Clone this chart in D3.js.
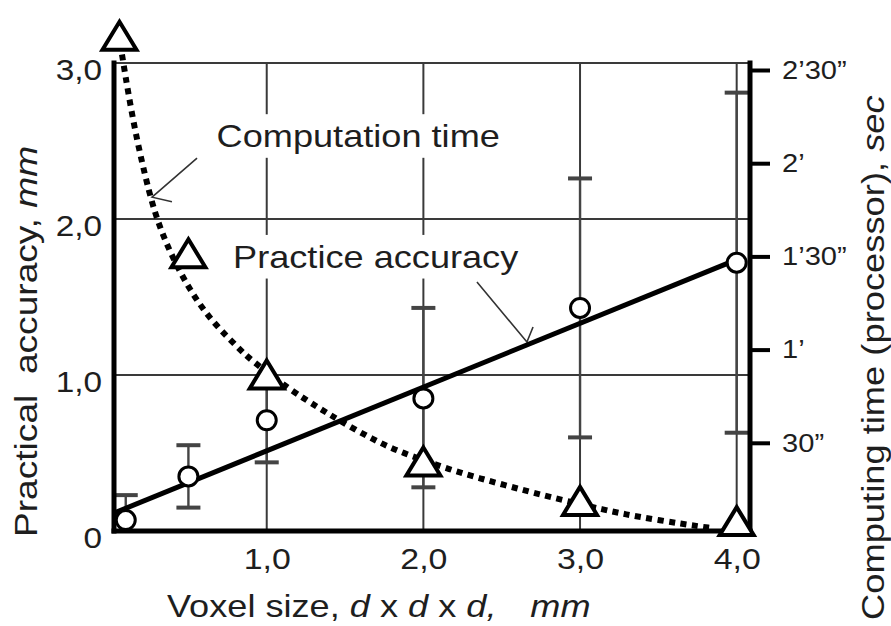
<!DOCTYPE html>
<html><head><meta charset="utf-8">
<script src="https://cdn.jsdelivr.net/npm/d3@7"></script>
<style>
body{margin:0;background:#fff}
svg{display:block}
text{font-family:"Liberation Sans",Arial,Helvetica,sans-serif;fill:#1e1e1e}
</style>
</head><body>
<svg id="c" width="891" height="626"></svg>
<script>
// ---- data ----
const voxelSizes   = [0.1, 0.5, 1.0, 2.0, 3.0, 4.0];
const accuracyMean = [0.07, 0.35, 0.71, 0.85, 1.43, 1.72];
const accuracyHigh = [0.23, 0.55, 0.95, 1.43, 2.26, 2.81];
const accuracyLow  = [0.00, 0.15, 0.44, 0.28, 0.60, 0.63];
const fitX = [0.025, 4.0];
const fitY = [0.115, 1.74];
const timeX   = [0.06, 0.5, 1.0, 2.0, 3.0, 4.0];
const timeSec = [161, 91, 52, 24, 11.3, 4.8];
const curveX   = [0.076, 0.15, 0.255, 0.32, 0.395, 0.51, 0.65, 0.83, 0.89, 1.15, 1.34, 1.47, 1.68, 1.85, 2.19, 2.38, 2.59, 2.79, 3.17, 3.36, 3.66, 3.85];
const curveSec = [155, 132, 109, 99, 90, 79, 69, 60, 57, 47, 41, 37, 31, 27, 21, 18.3, 15.4, 12.8, 8.2, 6.3, 3.8, 2.5];
const leftTicks = [0, 1, 2, 3];
const leftTickLabels = ["0", "1,0", "2,0", "3,0"];
const bottomTicks = [1, 2, 3, 4];
const bottomTickLabels = ["1,0", "2,0", "3,0", "4,0"];
const rightTicks = [30, 60, 90, 120, 150];
const rightTickLabels = ["30\u201d", "1\u2019", "1\u201930\u201d", "2\u2019", "2\u201930\u201d"];
const gridY = [1, 2, 3];
const gridX = [1, 2, 3, 4];

// ---- scales ----
const svg = d3.select("#c");
const x  = d3.scaleLinear().domain([0.025, 4.085]).range([114, 750]);
const y  = d3.scaleLinear().domain([0, 3]).range([531, 63]);
const yR = d3.scaleLinear().domain([0, 150]).range([536, 70]);
const [xL, xRt] = x.range();
const [yB, yT] = y.range();

// ---- grid ----
const grid = svg.append("g").attr("stroke", "#3a3a3a").attr("stroke-width", 2);
grid.selectAll(".gh").data(gridY).join("line")
  .attr("x1", xL).attr("x2", xRt).attr("y1", d => y(d)).attr("y2", d => y(d));
grid.selectAll(".gv").data(gridX).join("line")
  .attr("x1", d => x(d)).attr("x2", d => x(d)).attr("y1", yB).attr("y2", yT);

// ---- text helper ----
function addText(parent, px, py, rot, sx, size, parts, anchor, back) {
  const g = parent.append("g").attr("transform", `translate(${px},${py}) rotate(${rot}) scale(${sx},1)`);
  const t = g.append("text").attr("font-size", size).attr("text-anchor", anchor || "start")
    .style("white-space", "pre");
  parts.forEach(p => {
    const ts = t.append("tspan").text(p.t);
    if (p.i) ts.attr("font-style", "italic");
    if (p.dx) ts.attr("dx", p.dx);
  });
  if (back) {
    const bb = t.node().getBBox();
    g.insert("rect", "text").attr("x", bb.x - 6).attr("y", bb.y - 4)
      .attr("width", bb.width + 12).attr("height", bb.height + 8).attr("fill", "#fff");
  }
  return g;
}

// ---- annotation labels (data coords) ----
const ann = svg.append("g");
addText(ann, x(0.68), y(2.46), 0, 1.13, 32, [{t: "Computation time"}], "start", true);
addText(ann, x(0.785), y(1.686), 0, 1.13, 32, [{t: "Practice accuracy"}], "start", true);

// leader lines
const lead = svg.append("g").attr("stroke", "#333").attr("stroke-width", 1.6).attr("fill", "none");
const leaders = [
  [[0.555, 2.39], [0.268, 2.14], [0.395, 2.11]],
  [[2.342, 1.596], [2.661, 1.212], [2.70, 1.308]]
];
lead.selectAll("path").data(leaders).join("path")
  .attr("d", d => d3.line().x(p => x(p[0])).y(p => y(p[1]))(d));

// ---- error bars ----
const eb = svg.append("g").attr("stroke", "#444");
const ebData = voxelSizes.map((v, i) => ({v, lo: accuracyLow[i], hi: accuracyHigh[i]}));
eb.selectAll(".stem").data(ebData).join("line").attr("stroke-width", 2.4)
  .attr("x1", d => x(d.v)).attr("x2", d => x(d.v)).attr("y1", d => y(d.lo)).attr("y2", d => y(d.hi));
eb.selectAll(".capH").data(ebData).join("line").attr("stroke-width", 4)
  .attr("x1", d => x(d.v) - 12).attr("x2", d => x(d.v) + 12).attr("y1", d => y(d.hi)).attr("y2", d => y(d.hi));
eb.selectAll(".capL").data(ebData.filter(d => d.lo > 0)).join("line").attr("stroke-width", 4)
  .attr("x1", d => x(d.v) - 12).attr("x2", d => x(d.v) + 12).attr("y1", d => y(d.lo)).attr("y2", d => y(d.lo));

// ---- regression line ----
svg.append("path").datum(fitX.map((v, i) => [v, fitY[i]]))
  .attr("fill", "none").attr("stroke", "#000").attr("stroke-width", 5)
  .attr("d", d3.line().x(d => x(d[0])).y(d => y(d[1])));

// ---- dotted computation-time curve ----
svg.append("path").datum(curveX.map((v, i) => [v, curveSec[i]]))
  .attr("fill", "none").attr("stroke", "#000").attr("stroke-width", 6)
  .attr("stroke-dasharray", "6,5.5")
  .attr("d", d3.line().curve(d3.curveBasis).x(d => x(d[0])).y(d => yR(d[1])));

// ---- axes lines ----
const ax = svg.append("g").attr("stroke", "#000").attr("stroke-width", 5).attr("stroke-linecap", "square");
ax.append("line").attr("x1", xL).attr("x2", xL).attr("y1", yT).attr("y2", yB);
ax.append("line").attr("x1", xL).attr("x2", xRt).attr("y1", yB).attr("y2", yB);
ax.append("line").attr("x1", xRt).attr("x2", xRt).attr("y1", yT).attr("y2", yB);

// ---- circles ----
svg.append("g").selectAll("circle").data(voxelSizes).join("circle")
  .attr("cx", d => x(d)).attr("cy", (d, i) => y(accuracyMean[i])).attr("r", 9.5)
  .attr("fill", "#fff").attr("stroke", "#000").attr("stroke-width", 3);

// ---- triangles ----
const triW = 34, triH = 28;
const tri = `M0,${-triH/2}L${triW/2},${triH/2}L${-triW/2},${triH/2}Z`;
svg.append("g").selectAll("path").data(timeX).join("path")
  .attr("transform", (d, i) => `translate(${x(d)},${yR(timeSec[i])})`)
  .attr("d", tri).attr("fill", "#fff").attr("stroke", "#000").attr("stroke-width", 4)
  .attr("stroke-linejoin", "miter");

// ---- axis labels via d3 axes ----
function styleTicks(g, size, sx) {
  g.select(".domain").remove();
  g.selectAll(".tick text").each(function() {
    const t = d3.select(this);
    const tx = +t.attr("x") || 0;
    t.attr("x", 0).attr("transform", `translate(${tx},0) scale(${sx},1)`)
      .attr("font-size", size).attr("font-family", null).attr("fill", "#1e1e1e");
  });
}
const gl = svg.append("g").attr("transform", `translate(${xL},0)`)
  .call(d3.axisLeft(y).tickValues(leftTicks).tickFormat((d, i) => leftTickLabels[i]).tickSize(0).tickPadding(12));
styleTicks(gl, 29, 1.15);
gl.selectAll(".tick text").attr("dy", "0.57em");

const gb = svg.append("g").attr("transform", `translate(0,${yB})`)
  .call(d3.axisBottom(x).tickValues(bottomTicks).tickFormat((d, i) => bottomTickLabels[i]).tickSize(0).tickPadding(17));
styleTicks(gb, 30, 1.13);

const gr = svg.append("g").attr("transform", `translate(${xRt},0)`)
  .call(d3.axisRight(yR).tickValues(rightTicks).tickFormat((d, i) => rightTickLabels[i]).tickSize(20).tickPadding(12));
styleTicks(gr, 26, 1.12);
gr.selectAll(".tick line").attr("stroke", "#000").attr("stroke-width", 4);

// ---- axis titles ----
addText(svg, 167, 617, 0, 1.13, 32,
  [{t: "Voxel size, "}, {t: "d", i: 1}, {t: " x "}, {t: "d", i: 1}, {t: " x "}, {t: "d,", i: 1}, {t: "mm", i: 1, dx: 30}]);
addText(svg, 37, 537, -90, 1.16, 32, [{t: "Practical  accuracy, "}, {t: "mm", i: 1}]);
addText(svg, 884, 620, -90, 1.135, 32, [{t: "Computing time (processor), "}, {t: "sec", i: 1}]);
</script>
</body></html>
